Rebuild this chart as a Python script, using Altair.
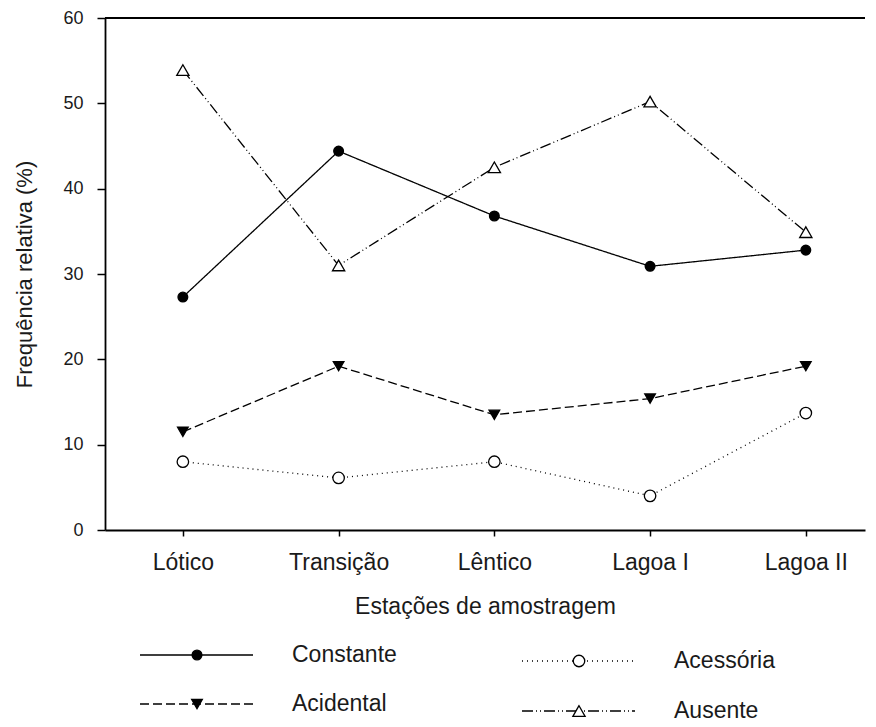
import json
import altair as alt
import pandas as pd

# ---- data ----
stations = ["Lótico", "Transição", "Lêntico", "Lagoa I", "Lagoa II"]
series_names = ["Constante", "Acidental", "Acessória", "Ausente"]
constante = [27.3, 44.4, 36.8, 30.9, 32.8]
acidental = [11.5, 19.2, 13.5, 15.4, 19.2]
acessoria = [8.0, 6.1, 8.0, 4.0, 13.7]
ausente = [53.9, 31.0, 42.5, 50.2, 34.9]
y_ticks = [0, 10, 20, 30, 40, 50, 60]

values = [constante, acidental, acessoria, ausente]
rows = []
for s, vals in zip(series_names, values):
    for i, (st, v) in enumerate(zip(stations, vals)):
        rows.append({"series": s, "idx": i, "station": st, "value": v})
df = pd.DataFrame(rows)

# ---- styles ----
FONT = "Liberation Sans"
TXT = "#1a1a1a"
dash_range = [[1, 0], [9, 4], [1, 4], [11, 3, 1, 3, 1, 3]]
shape_range = ["circle", "triangle-down", "circle", "triangle-up"]
fill_range = ["black", "black", "white", "white"]
size_range = [95, 150, 85, 150]

W, H = 760, 512
label_expr = json.dumps(stations, ensure_ascii=False) + "[datum.value]"

dash_scale = alt.Scale(domain=series_names, range=dash_range)
shape_scale = alt.Scale(domain=series_names, range=shape_range)
fill_scale = alt.Scale(domain=series_names, range=fill_range)
size_scale = alt.Scale(domain=series_names, range=size_range)

x_enc = alt.X(
    "idx:Q",
    scale=alt.Scale(domain=[-0.5, 4.38], nice=False, zero=False),
    axis=alt.Axis(
        values=list(range(len(stations))),
        labelExpr=label_expr,
        title="Estações de amostragem",
        grid=False,
        tickSize=6,
        tickColor="black",
        tickWidth=1.5,
        domainColor="black",
        domainWidth=1.8,
        labelFontSize=23,
        labelPadding=15,
        labelColor=TXT,
        titleFontSize=23,
        titleFontWeight="normal",
        titlePadding=21,
        titleColor=TXT,
    ),
)
y_enc = alt.Y(
    "value:Q",
    scale=alt.Scale(domain=[0, 60], nice=False),
    axis=alt.Axis(
        values=y_ticks,
        title="Frequência relativa (%)",
        grid=False,
        tickSize=8,
        tickColor="black",
        tickWidth=1.5,
        domainColor="black",
        domainWidth=1.8,
        labelFontSize=18,
        labelPadding=14,
        labelColor=TXT,
        titleFontSize=22,
        titleFontWeight="normal",
        titlePadding=26,
        titleColor=TXT,
    ),
)

base = alt.Chart(df)
lines = base.mark_line(color="black", strokeWidth=1.3).encode(
    x=x_enc,
    y=y_enc,
    strokeDash=alt.StrokeDash("series:N", scale=dash_scale, legend=None),
    detail="series:N",
)
points = base.mark_point(filled=True, opacity=1, stroke="black", strokeWidth=1.3).encode(
    x="idx:Q",
    y="value:Q",
    shape=alt.Shape("series:N", scale=shape_scale, legend=None),
    fill=alt.Fill("series:N", scale=fill_scale, legend=None),
    size=alt.Size("series:N", scale=size_scale, legend=None),
)
top_rule = alt.Chart(pd.DataFrame({"top": [max(y_ticks)]})).mark_rule(
    color="black", strokeWidth=1.8
).encode(y="top:Q")

main = alt.layer(top_rule, lines, points).properties(width=W, height=H)

# ---- custom legend panel ----
LH = 99
COL_X = [35, 417]
ROW_Y = [[31, 80], [37, 87]]
leg_rows = []
for i, s in enumerate(series_names):
    c, r = i // 2, i % 2
    x0 = COL_X[c]
    leg_rows.append({"series": s, "x0": x0, "x1": x0 + 113, "xm": x0 + 57,
                     "xt": x0 + 152, "y": ROW_Y[c][r]})
leg_df = pd.DataFrame(leg_rows)

lx = alt.Scale(domain=[0, W], nice=False, zero=False)
ly = alt.Scale(domain=[0, LH], nice=False, zero=False, reverse=True)
leg_base = alt.Chart(leg_df)
leg_lines = leg_base.mark_rule(color="black", strokeWidth=1.3).encode(
    x=alt.X("x0:Q", scale=lx, axis=None),
    x2="x1:Q",
    y=alt.Y("y:Q", scale=ly, axis=None),
    strokeDash=alt.StrokeDash("series:N", scale=dash_scale, legend=None),
)
leg_points = leg_base.mark_point(filled=True, opacity=1, stroke="black", strokeWidth=1.3).encode(
    x=alt.X("xm:Q", scale=lx, axis=None),
    y=alt.Y("y:Q", scale=ly, axis=None),
    shape=alt.Shape("series:N", scale=shape_scale, legend=None),
    fill=alt.Fill("series:N", scale=fill_scale, legend=None),
    size=alt.Size("series:N", scale=size_scale, legend=None),
)
leg_text = leg_base.mark_text(align="left", baseline="middle", fontSize=23, color=TXT).encode(
    x=alt.X("xt:Q", scale=lx, axis=None),
    y=alt.Y("y:Q", scale=ly, axis=None),
    text="series:N",
)
legend = alt.layer(leg_lines, leg_points, leg_text).properties(width=W, height=LH)

chart = (
    alt.vconcat(main, legend, spacing=6)
    .properties(padding={"left": 5, "top": 1, "right": 0, "bottom": 0})
    .configure(font=FONT)
    .configure_view(stroke=None)
)
chart.save("out.html", embed_options={"renderer": "svg", "actions": False})
